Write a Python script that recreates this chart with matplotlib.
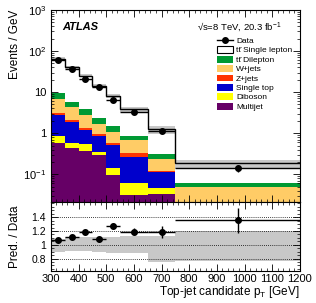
import numpy as np
import matplotlib
matplotlib.use('Agg')
import matplotlib.pyplot as plt
from matplotlib.patches import Rectangle
from matplotlib.ticker import FixedLocator, MultipleLocator, LogLocator, NullFormatter

plt.rcParams['font.family'] = ['Liberation Sans', 'DejaVu Sans']
plt.rcParams['mathtext.fontset'] = 'custom'
plt.rcParams['mathtext.rm'] = 'Liberation Sans'
plt.rcParams['mathtext.it'] = 'Liberation Sans:italic'

# ================= DATA =================
bin_edges = [300, 350, 400, 450, 500, 550, 650, 750, 1200]

multijet = [0.57, 0.43, 0.36, 0.29, 0.095, 0.031, 0.033, 0.002]
diboson = [0.28, 0.14, 0.18, 0.05, 0.045, 0.029, 0.013, 0.001]
single_top = [1.90, 1.28, 0.64, 0.51, 0.37, 0.21, 0.066, 0.008]
z_jets = [0.35, 0.22, 0.14, 0.10, 0.06, 0.06, 0.006, 0.001]
w_jets = [3.6, 2.2, 1.43, 0.71, 0.49, 0.35, 0.112, 0.036]
tt_dilepton = [2.8, 1.4, 1.10, 0.66, 0.42, 0.17, 0.08, 0.012]
tt_single_lepton = [54.5, 34.3, 21.15, 11.68, 6.52, 2.95, 0.99, 0.13]

data_x = [325, 375, 425, 475, 525, 600, 700, 975]
data_y = [60, 36, 21, 13, 6.3, 3.2, 1.1, 0.14]
ratio_err = [0.02, 0.02, 0.025, 0.03, 0.04, 0.05, 0.09, 0.18]

band_lo = [0.90, 0.91, 0.91, 0.90, 0.88, 0.88, 0.75, 0.76]
band_hi = [1.09, 1.11, 1.11, 1.11, 1.11, 1.12, 1.12, 1.20]

# ================= STACK =================
edges = np.array(bin_edges, dtype=float)
comps = [
    (multijet, '#660066', 'Multijet'),
    (diboson, '#ffff00', 'Diboson'),
    (single_top, '#0000cc', 'Single top'),
    (z_jets, '#ff3300', 'Z+jets'),
    (w_jets, '#ffcc66', 'W+jets'),
    (tt_dilepton, '#009933', 'tt\u0304 Dilepton'),
]

fig = plt.figure(figsize=(3.16, 3.03), dpi=100)
ax1 = fig.add_axes([0.161, 0.333, 0.788, 0.634])
ax2 = fig.add_axes([0.161, 0.106, 0.788, 0.227], sharex=ax1)

base = np.full(len(multijet), 1e-4)
for vals, col, lab in comps:
    top = base + np.array(vals)
    ax1.stairs(top, edges, baseline=base, fill=True, color=col, lw=0)
    base = top
total = base + np.array(tt_single_lepton)
ax1.stairs(total, edges, baseline=base, fill=True, color='white', lw=0)

# uncertainty band around the prediction
ax1.stairs(total * np.array(band_hi), edges, baseline=total * np.array(band_lo),
           fill=True, color='#c8c8c8', lw=0)
ax1.stairs(total, edges, baseline=None, color='black', lw=1.0)

data_y = np.array(data_y)
xerr = np.diff(edges) / 2
ax1.errorbar(data_x, data_y, xerr=xerr, yerr=data_y * np.array(ratio_err),
             fmt='o', color='black', ms=4, lw=1.0, capsize=0)

ax1.set_yscale('log')
ax1.set_ylim(0.021, 1000)
ax1.set_xlim(300, 1200)
ax1.set_ylabel('Events / GeV', fontsize=8.5, loc='top')


def log_fmt(v, pos):
    if abs(v - 1) < 1e-9:
        return '1'
    if abs(v - 10) < 1e-9:
        return '10'
    return r'$10^{%d}$' % int(round(np.log10(v)))


ax1.yaxis.set_major_locator(FixedLocator([0.1, 1, 10, 100, 1000]))
ax1.yaxis.set_major_formatter(plt.FuncFormatter(log_fmt))
ax1.yaxis.set_minor_locator(LogLocator(base=10, subs=np.arange(2, 10), numticks=20))
ax1.yaxis.set_minor_formatter(NullFormatter())
ax1.tick_params(axis='x', labelbottom=False)

ax1.text(0.045, 0.91, 'ATLAS', transform=ax1.transAxes, fontsize=8,
         fontweight='bold', style='italic', va='center')
ax1.text(0.585, 0.91, '\u221as=8 TeV, 20.3 fb$^{-1}$', transform=ax1.transAxes,
         fontsize=6.8, va='center')

# ---- legend, drawn by hand (ROOT style rows) ----
leg_items = [('data', 'black', 'Data'),
             ('box', 'white', 'tt\u0304 Single lepton')]
for vals, col, lab in comps[::-1]:
    leg_items.append(('fill', col, lab))

row0, dy = 0.842, 0.049
bx0, bx1, bh = 0.667, 0.731, 0.036
for i, (kind, col, lab) in enumerate(leg_items):
    yc = row0 - i * dy
    if kind == 'data':
        ax1.plot([bx0, bx1], [yc, yc], color='black', lw=1, transform=ax1.transAxes)
        ax1.plot([(bx0 + bx1) / 2], [yc], 'o', color='black', ms=4,
                 transform=ax1.transAxes)
    else:
        ec = 'black' if kind == 'box' else 'none'
        ax1.add_patch(Rectangle((bx0, yc - bh / 2), bx1 - bx0, bh, facecolor=col,
                                edgecolor=ec, lw=0.8, transform=ax1.transAxes))
    ax1.text(bx1 + 0.012, yc - 0.013, lab, transform=ax1.transAxes, fontsize=6.0,
             va='baseline', ha='left')

# ================= RATIO =================
ratio = total / data_y
ax2.stairs(band_hi, edges, baseline=band_lo, fill=True, color='#c8c8c8', lw=0)
for yv in [0.8, 1.0, 1.2, 1.4]:
    ax2.axhline(yv, ls=(0, (1, 1.5)), lw=0.6, color='black')
ax2.errorbar(data_x, ratio, xerr=xerr, yerr=ratio_err, fmt='o', color='black',
             ms=4, lw=1.0, capsize=0)
ax2.set_ylim(0.62, 1.62)
ax2.yaxis.set_major_locator(FixedLocator([0.8, 1.0, 1.2, 1.4]))
ax2.set_yticklabels(['0.8', '1', '1.2', '1.4'])
ax2.yaxis.set_minor_locator(MultipleLocator(0.05))
ax2.set_ylabel('Pred. / Data', fontsize=8.5)
ax2.yaxis.set_label_coords(-0.12, 0.5)
ax2.xaxis.set_major_locator(MultipleLocator(100))
ax2.xaxis.set_minor_locator(MultipleLocator(20))
ax2.set_xlabel(r'Top-jet candidate p$_{\mathrm{T}}$ [GeV]', fontsize=8.5,
               loc='right', labelpad=0)

for ax in (ax1, ax2):
    ax.tick_params(which='both', direction='in', top=True, right=True, labelsize=8)
    ax.tick_params(which='major', length=5, width=0.6)
    ax.tick_params(which='minor', length=2.5, width=0.5)
    for s in ax.spines.values():
        s.set_linewidth(0.8)
    ax.set_axisbelow(False)
ax2.tick_params(axis='x', pad=2.5)
ax2.tick_params(axis='y', labelsize=7.5)

ax1.yaxis.set_label_coords(-0.12, 1.0)
plt.savefig('out.png', dpi=100)
